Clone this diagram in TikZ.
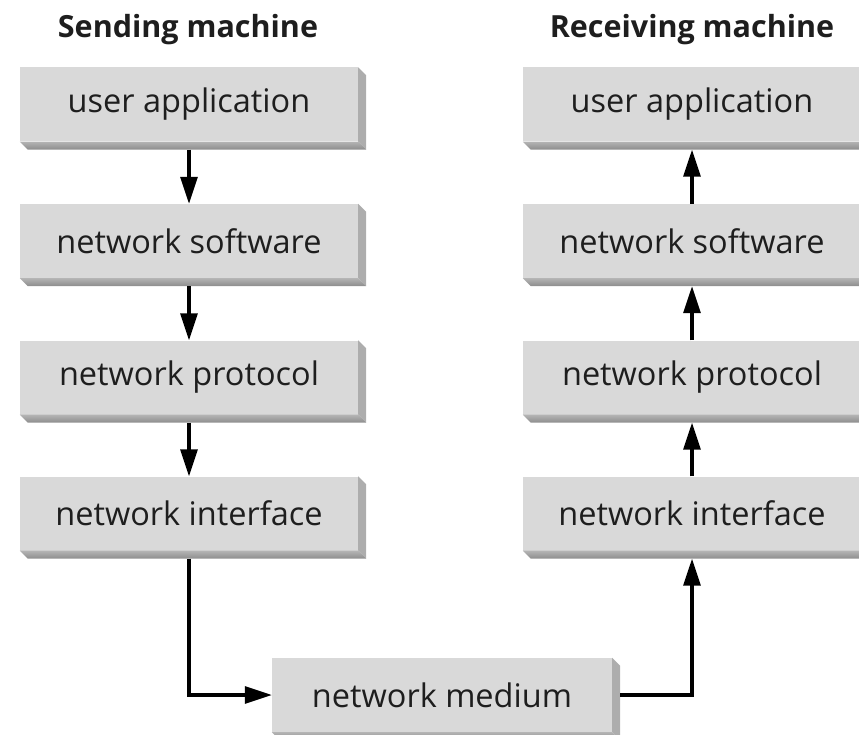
\documentclass[tikz,border=0pt]{standalone}
\usepackage{fontspec}
\setmainfont{Open Sans}
\usetikzlibrary{arrows.meta}
\definecolor{face}{HTML}{D9D9D9}
\definecolor{side}{HTML}{ADADAD}
\definecolor{bevtop}{HTML}{B4B4B4}
\definecolor{bevbot}{HTML}{8C8C8C}
\definecolor{ink}{HTML}{1E1E1E}
\tikzset{
  layer/.style={fill=face, minimum width=338pt, minimum height=74pt, inner sep=0pt,
    font=\fontsize{32.5}{38}\selectfont, text=ink},
  heading/.style={font=\fontsize{30.5}{36}\selectfont\bfseries, text=ink},
  flow/.style={line width=3.2pt, draw=black, -{Triangle[length=27pt,width=17pt]}},
}
% 3-D edge along the bottom and right side of a layer box
\newcommand\bevel[1]{%
  \fill[side] (#1.north east) -- ++(8pt,-8pt) -- ([shift={(8pt,-8pt)}]#1.south east)
    -- (#1.south east) -- cycle;
  \shade[top color=bevtop, bottom color=bevbot] (#1.south west) -- (#1.south east)
    -- ++(8pt,-8pt) -- ([shift={(8pt,-8pt)}]#1.south west) -- cycle;
}
\begin{document}
\begin{tikzpicture}[x=1pt,y=-1pt]
  \useasboundingbox (0,0) rectangle (859,735);

  \node[heading] (hs) at (188,30) {Sending machine};
  \node[heading] (hr) at (692,30) {Receiving machine};

  % sending stack
  \node[layer] (l1) at (189,104.5) {user application};
  \node[layer] (l2) at (189,241) {network software};
  \node[layer] (l3) at (189,377.5) {network protocol};
  \node[layer] (l4) at (189,513.5) {network interface};

  % receiving stack
  \node[layer] (r1) at (692,104.5) {user application};
  \node[layer] (r2) at (692,241) {network software};
  \node[layer] (r3) at (692,377.5) {network protocol};
  \node[layer] (r4) at (692,513.5) {network interface};

  % shared medium
  \node[layer, minimum width=340pt] (m) at (442,695) {network medium};

  \foreach \n in {l1,l2,l3,l4,r1,r2,r3,r4,m} {\bevel{\n}}

  % downward flow on the sending side
  \draw[flow] ([yshift=-8pt]l1.south) -- (l2.north);
  \draw[flow] ([yshift=-8pt]l2.south) -- (l3.north);
  \draw[flow] ([yshift=-8pt]l3.south) -- (l4.north);

  % upward flow on the receiving side
  \draw[flow] (r2.north) -- ([yshift=-8pt]r1.south);
  \draw[flow] (r3.north) -- ([yshift=-8pt]r2.south);
  \draw[flow] (r4.north) -- ([yshift=-8pt]r3.south);

  % through the medium
  \draw[flow] ([yshift=-8pt]l4.south) |- (m.west);
  \draw[flow] ([xshift=8pt]m.east) -| ([yshift=-8pt]r4.south);
\end{tikzpicture}
\end{document}
